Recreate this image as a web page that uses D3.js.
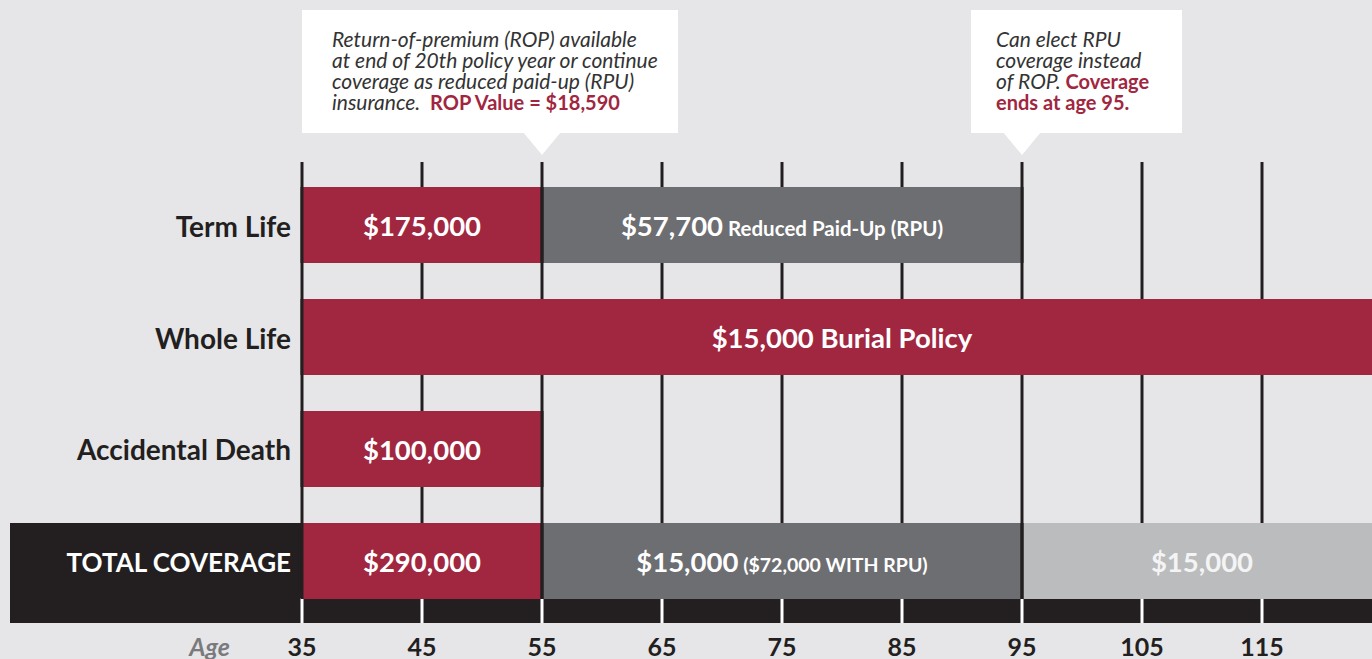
<!DOCTYPE html>
<html lang="en">
<head>
<meta charset="utf-8">
<title>Coverage by Age</title>
<script src="https://d3js.org/d3.v7.min.js"></script>
<style>
  body { margin: 0; background: #e6e6e9; overflow: hidden; }
  svg { display: block; font-family: Lato, "Open Sans", sans-serif; }
</style>
</head>
<body>
<script>
// rows of the chart
var rows = ["Term Life", "Whole Life", "Accidental Death", "TOTAL COVERAGE"];

// coverage segments (one entry per bar piece)
var segRow   = [0, 0, 1, 2, 3, 3, 3];
var segStart = [35, 55, 35, 35, 35, 55, 95];
var segEnd   = [55, 95, 125, 55, 55, 95, 125];
var segKind  = ["term", "rpu", "term", "term", "term", "rpu", "paid"];
var segMain  = ["$175,000", "$57,700", "$15,000 Burial Policy", "$100,000", "$290,000", "$15,000", "$15,000"];
var segSub   = ["", "Reduced Paid-Up (RPU)", "", "", "", "($72,000 WITH RPU)", ""];

// age axis
var ageTicks = [35, 45, 55, 65, 75, 85, 95, 105, 115];

// callouts
var noteAges = [55, 95];

var W = 1372, H = 659;
var red = "#a1263f", dark = "#231f20", gray = "#6d6e71", light = "#bbbcbe";
var colors = { term: red, rpu: gray, paid: light };

var svg = d3.select("body").append("svg")
    .attr("width", W)
    .attr("height", H);

svg.append("rect").attr("width", W).attr("height", H).attr("fill", "#e6e6e9");

var x = d3.scaleLinear().domain([35, 125]).range([302, 1382]);
var y = d3.scaleBand().domain(rows).range([187, 599]).paddingInner(0.3214).paddingOuter(0);

var gridTop = 162, bandTop = 598, bandBottom = 623;

// black box for total coverage label and bottom band
svg.append("rect")
    .attr("x", 10).attr("y", y("TOTAL COVERAGE"))
    .attr("width", x(35) - 10).attr("height", bandBottom - y("TOTAL COVERAGE"))
    .attr("fill", dark);
svg.append("rect")
    .attr("x", x(35)).attr("y", bandTop)
    .attr("width", W - x(35)).attr("height", bandBottom - bandTop)
    .attr("fill", dark);

// grid lines
svg.append("g").selectAll("line")
    .data(ageTicks)
    .enter().append("line")
    .attr("x1", function(d) { return x(d); })
    .attr("x2", function(d) { return x(d); })
    .attr("y1", gridTop).attr("y2", bandTop)
    .attr("stroke", dark).attr("stroke-width", 3);

// white ticks in the band
svg.append("g").selectAll("line")
    .data(ageTicks)
    .enter().append("line")
    .attr("x1", function(d) { return x(d); })
    .attr("x2", function(d) { return x(d); })
    .attr("y1", bandTop).attr("y2", bandBottom)
    .attr("stroke", "#fff").attr("stroke-width", 3);

var segs = segRow.map(function(r, i) {
    return { row: rows[r], s: segStart[i], e: segEnd[i], kind: segKind[i], main: segMain[i], sub: segSub[i] };
});

// bars
svg.append("g").selectAll("rect")
    .data(segs)
    .enter().append("rect")
    .attr("x", function(d) { return x(d.s); })
    .attr("y", function(d) { return y(d.row); })
    .attr("width", function(d) { return x(d.e) - x(d.s); })
    .attr("height", y.bandwidth())
    .attr("fill", function(d) { return colors[d.kind]; });

// edge lines where a segment starts or ends
var edges = [];
segs.forEach(function(d) {
    edges.push({ row: d.row, a: d.s });
    if (d.e < 125) edges.push({ row: d.row, a: d.e });
});
svg.append("g").selectAll("line")
    .data(edges)
    .enter().append("line")
    .attr("x1", function(d) { return x(d.a); })
    .attr("x2", function(d) { return x(d.a); })
    .attr("y1", function(d) { return y(d.row); })
    .attr("y2", function(d) { return y(d.row) + y.bandwidth(); })
    .attr("stroke", dark).attr("stroke-width", 3);

// bar labels
var lab = svg.append("g").selectAll("text")
    .data(segs)
    .enter().append("text")
    .attr("x", function(d) { return (x(d.s) + x(d.e)) / 2; })
    .attr("y", function(d) { return y(d.row) + y.bandwidth() / 2 + 11; })
    .attr("text-anchor", "middle")
    .attr("font-size", 27.5)
    .attr("fill", function(d) { return d.kind === "paid" ? "#f4f4f5" : "#fff"; })
    .attr("font-weight", "bold");
lab.append("tspan")
    .text(function(d) { return d.main; });
lab.filter(function(d) { return d.sub; })
    .append("tspan")
    .attr("font-size", function(d) { return d.row === "Term Life" ? 20.5 : 19.5; })
    .text(function(d) { return " " + d.sub; });

// row labels
svg.append("g").selectAll("text")
    .data(rows)
    .enter().append("text")
    .attr("x", 291)
    .attr("y", function(d) { return y(d) + y.bandwidth() / 2 + 11.5; })
    .attr("text-anchor", "end")
    .attr("font-size", function(d) { return d === "TOTAL COVERAGE" ? 26 : 28; })
    .attr("font-weight", "bold")
    .attr("fill", function(d) { return d === "TOTAL COVERAGE" ? "#fff" : dark; })
    .text(function(d) { return d; });

// age axis labels
svg.append("g").selectAll("text")
    .data(ageTicks)
    .enter().append("text")
    .attr("x", function(d) { return x(d); })
    .attr("y", 656)
    .attr("text-anchor", "middle")
    .attr("font-size", 25)
    .attr("font-weight", "bold")
    .attr("fill", dark)
    .text(function(d) { return d; });

svg.append("text")
    .attr("x", 230).attr("y", 656)
    .attr("text-anchor", "end")
    .attr("font-size", 25)
    .attr("font-style", "italic")
    .attr("font-weight", "bold")
    .attr("fill", "#7a7a7d")
    .text("Age");

// callouts
var boxes = [
    { left: 302, right: 678 },
    { left: 971, right: 1182 }
];
var noteLines = [
    [
        [["Return-of-premium (ROP) available", false]],
        [["at end of 20th policy year or continue", false]],
        [["coverage as reduced paid-up (RPU)", false]],
        [["insurance.\u00a0\u00a0", false], ["ROP Value = $18,590", true]]
    ],
    [
        [["Can elect RPU", false]],
        [["coverage instead", false]],
        [["of ROP. ", false], ["Coverage", true]],
        [["ends at age 95.", true]]
    ]
];

noteAges.forEach(function(age, i) {
    var b = boxes[i];
    var px = x(age);
    var g = svg.append("g");
    g.append("rect")
        .attr("x", b.left).attr("y", 10)
        .attr("width", b.right - b.left).attr("height", 123)
        .attr("fill", "#fff");
    g.append("path")
        .attr("d", "M" + (px - 19) + ",132 L" + (px + 19) + ",132 L" + px + ",155 Z")
        .attr("fill", "#fff");
    var t = g.append("text")
        .attr("font-size", 21)
        .attr("fill", "#333");
    noteLines[i].forEach(function(line, j) {
        line.forEach(function(part, k) {
            var ts = t.append("tspan").text(part[0]);
            if (k === 0) ts.attr("x", b.left + (i === 0 ? 30 : 25)).attr("y", 47 + j * 21);
            if (part[1]) {
                ts.attr("font-weight", "bold").attr("fill", red).attr("font-size", 20);
            } else {
                ts.attr("font-style", "italic");
            }
        });
    });
});
</script>
</body>
</html>
